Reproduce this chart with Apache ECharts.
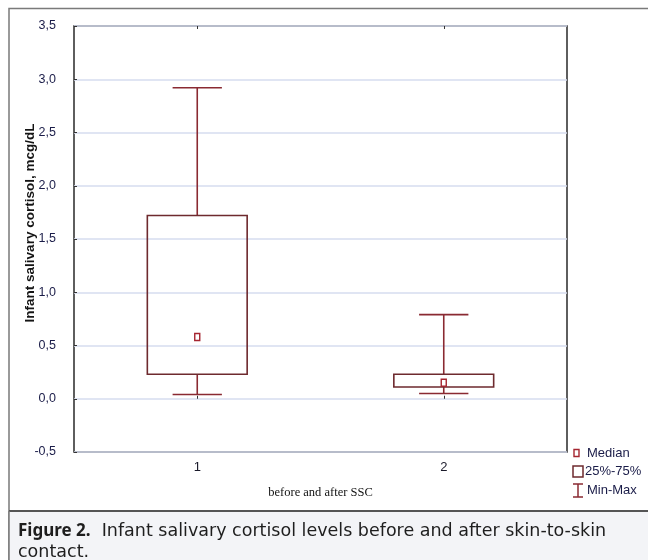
<!DOCTYPE html>
<html><head><meta charset="utf-8">
<script src="https://cdn.jsdelivr.net/npm/echarts@6/dist/echarts.min.js"></script>
<style>html,body{margin:0;padding:0;background:#fff}#c{width:648px;height:560px}</style>
</head><body><div id="c"></div>
<script>
const categories = ['1', '2'];
const minValues = [0.04, 0.05];
const q1Values = [0.23, 0.11];
const medianValues = [0.58, 0.15];
const q3Values = [1.72, 0.23];
const maxValues = [2.92, 0.79];
const yTicks = [-0.5, 0, 0.5, 1, 1.5, 2, 2.5, 3, 3.5];

const data = categories.map((c, i) => [i, minValues[i], q1Values[i], medianValues[i], q3Values[i], maxValues[i]]);
const chart = echarts.init(document.getElementById('c'));
const labelColor = '#1a1c48';
const fmt = v => v.toFixed(1).replace('.', ',');

chart.setOption({
  animation: false,
  grid: { left: 74, right: 81, top: 26, bottom: 108, show: true, borderColor: '#2a2a2a', borderWidth: 1.5, backgroundColor: 'transparent' },
  xAxis: [{
    type: 'category', data: categories, position: 'bottom', boundaryGap: true,
    axisLine: { show: false },
    axisTick: { show: true, alignWithLabel: true, inside: true, length: 3, lineStyle: { color: '#333' } },
    axisLabel: { color: '#1a1a2a', fontFamily: 'Arial, Liberation Sans', fontSize: 13, margin: 9 },
    name: 'before and after SSC', nameLocation: 'middle', nameGap: 34,
    nameTextStyle: { fontFamily: 'Liberation Serif', fontSize: 12.5, color: '#111' },
    splitLine: { show: false }
  }, {
    type: 'category', data: categories, position: 'top', boundaryGap: true,
    axisLine: { show: false },
    axisTick: { show: true, alignWithLabel: true, inside: true, length: 3, lineStyle: { color: '#333' } },
    axisLabel: { show: false }
  }],
  yAxis: {
    type: 'value', min: yTicks[0], max: yTicks[yTicks.length - 1], interval: 0.5,
    axisLine: { show: false },
    axisTick: { show: true, inside: true, length: 3, lineStyle: { color: '#333' } },
    axisLabel: { color: labelColor, fontFamily: 'Arial, Liberation Sans', fontSize: 12.5, margin: 18, formatter: v => fmt(v) },
    splitLine: { show: true, lineStyle: { color: '#d6dcef', width: 1.5 } }
  },
  series: [{
    type: 'custom',
    xAxisIndex: 0,
    data: data,
    encode: { x: 0, y: [1, 2, 3, 4, 5] },
    renderItem: function (params, api) {
      const xi = api.value(0);
      const pMin = api.coord([xi, api.value(1)]);
      const pQ1 = api.coord([xi, api.value(2)]);
      const pMed = api.coord([xi, api.value(3)]);
      const pQ3 = api.coord([xi, api.value(4)]);
      const pMax = api.coord([xi, api.value(5)]);
      const cx = pQ1[0];
      const bw = api.size([1, 0])[0] * 0.405;
      const cw = api.size([1, 0])[0] * 0.2;
      const wc = '#8a2a32', bc = '#6e2a2e', mc = '#a52530';
      const lw = { stroke: wc, lineWidth: 1.6 };
      return {
        type: 'group',
        children: [
          { type: 'line', shape: { x1: cx, y1: pQ3[1], x2: cx, y2: pMax[1] }, style: lw },
          { type: 'line', shape: { x1: cx - cw / 2, y1: pMax[1], x2: cx + cw / 2, y2: pMax[1] }, style: lw },
          { type: 'line', shape: { x1: cx, y1: pQ1[1], x2: cx, y2: pMin[1] }, style: lw },
          { type: 'line', shape: { x1: cx - cw / 2, y1: pMin[1], x2: cx + cw / 2, y2: pMin[1] }, style: lw },
          { type: 'rect', shape: { x: cx - bw / 2, y: pQ3[1], width: bw, height: pQ1[1] - pQ3[1] }, style: { fill: 'none', stroke: bc, lineWidth: 1.6 } },
          { type: 'rect', shape: { x: cx - 2.5, y: pMed[1] - 3.5, width: 5, height: 7 }, style: { fill: '#fff', stroke: mc, lineWidth: 1.4 } }
        ]
      };
    }
  }],
  graphic: [
    { type: 'text', x: 30, y: 223, rotation: Math.PI / 2, style: { text: 'Infant salivary cortisol, mcg/dL', fontFamily: 'Arial, Liberation Sans', fontSize: 13.5, fontWeight: 'bold', fill: '#151515', align: 'center', verticalAlign: 'middle' } },
    { type: 'polyline', shape: { points: [[9, 560], [9, 8.5], [648, 8.5]] }, style: { fill: 'none', stroke: '#7a7a7a', lineWidth: 1.5 } },
    { type: 'rect', shape: { x: 9, y: 511, width: 640, height: 49 }, style: { fill: '#f3f4f7', stroke: 'none' } },
    { type: 'line', shape: { x1: 9, y1: 511, x2: 648, y2: 511 }, style: { stroke: '#555', lineWidth: 2 } },
    { type: 'line', shape: { x1: 9, y1: 511, x2: 9, y2: 560 }, style: { stroke: '#7a7a7a', lineWidth: 1.5 } },
    { type: 'text', x: 18, y: 531, style: {
        text: '{b|Figure 2.}  Infant salivary cortisol levels before and after skin-to-skin',
        rich: { b: { fontWeight: 'bold', fontFamily: 'Noto Sans', fontSize: 17, fill: '#1e1e1e' } },
        fontFamily: 'DejaVu Sans', fontSize: 17.5, fill: '#1e1e1e', verticalAlign: 'middle' } },
    { type: 'text', x: 18, y: 552, style: { text: 'contact.', fontFamily: 'DejaVu Sans', fontSize: 17.5, fill: '#1e1e1e', verticalAlign: 'middle' } },
    // legend
    { type: 'rect', shape: { x: 574, y: 449.5, width: 5, height: 7 }, style: { fill: '#fff', stroke: '#a52530', lineWidth: 1.4 } },
    { type: 'text', x: 587, y: 453, style: { text: 'Median', fontFamily: 'Arial, Liberation Sans', fontSize: 13, fill: labelColor, verticalAlign: 'middle' } },
    { type: 'rect', shape: { x: 573, y: 466, width: 10, height: 11 }, style: { fill: '#fff', stroke: '#6e2a2e', lineWidth: 1.5 } },
    { type: 'text', x: 585, y: 471, style: { text: '25%-75%', fontFamily: 'Arial, Liberation Sans', fontSize: 13, fill: labelColor, verticalAlign: 'middle' } },
    { type: 'polyline', shape: { points: [[573, 484], [583, 484]] }, style: { stroke: '#8a2a32', lineWidth: 1.5 } },
    { type: 'polyline', shape: { points: [[578, 484], [578, 497]] }, style: { stroke: '#8a2a32', lineWidth: 1.5 } },
    { type: 'polyline', shape: { points: [[573, 497], [583, 497]] }, style: { stroke: '#8a2a32', lineWidth: 1.5 } },
    { type: 'text', x: 587, y: 490, style: { text: 'Min-Max', fontFamily: 'Arial, Liberation Sans', fontSize: 13, fill: labelColor, verticalAlign: 'middle' } }
  ]
});
</script></body></html>
